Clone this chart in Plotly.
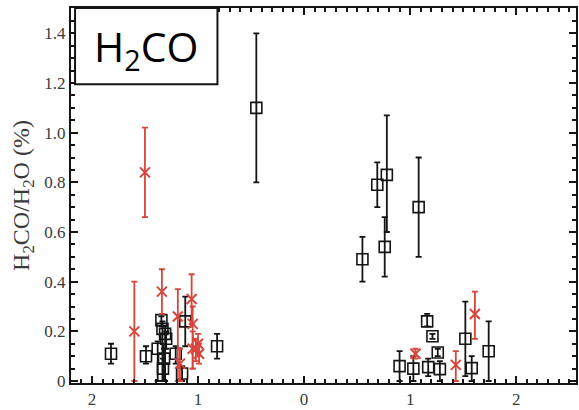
import plotly.graph_objects as go

# Heliocentric distance (AU); negative = pre-perihelion, positive = post-perihelion
black_x = [-1.82, -1.49, -1.345, -1.335, -1.31, -1.30, -1.38, -1.32, -1.33, -1.21, -1.12, -1.15, -0.82, -0.45,
           0.55, 0.69, 0.78, 0.76, 1.08, 0.90, 1.03, 1.16, 1.21, 1.26, 1.17, 1.28, 1.52, 1.58, 1.74]
black_y = [0.11, 0.10, 0.245, 0.21, 0.19, 0.17, 0.13, 0.09, 0.05, 0.11, 0.24, 0.03, 0.14, 1.10,
           0.49, 0.79, 0.83, 0.54, 0.70, 0.06, 0.05, 0.24, 0.18, 0.115, 0.056, 0.048, 0.17, 0.052, 0.12]
black_lo = [0.07, 0.07, 0.22, 0.0, 0.0, 0.13, 0.0, 0.0, 0.0, 0.07, 0.14, 0.0, 0.09, 0.80,
            0.40, 0.70, 0.60, 0.42, 0.50, 0.0, 0.0, 0.22, 0.17, 0.10, 0.02, 0.0, 0.02, 0.0, 0.0]
black_hi = [0.15, 0.14, 0.26, 0.24, 0.22, 0.20, 0.16, 0.13, 0.09, 0.14, 0.34, 0.06, 0.19, 1.40,
            0.58, 0.88, 1.07, 0.66, 0.90, 0.12, 0.10, 0.27, 0.19, 0.13, 0.09, 0.08, 0.32, 0.10, 0.24]

red_x = [-1.60, -1.50, -1.34, -1.19, -1.17, -1.06, -1.05, -1.05, -1.00, -0.99, -1.02, 1.05, 1.43, 1.61]
red_y = [0.20, 0.84, 0.36, 0.26, 0.07, 0.33, 0.23, 0.13, 0.15, 0.11, 0.13, 0.11, 0.065, 0.27]
red_lo = [0.0, 0.66, 0.27, 0.0, 0.0, 0.23, 0.05, 0.05, 0.10, 0.07, 0.08, 0.09, 0.0, 0.17]
red_hi = [0.40, 1.02, 0.45, 0.37, 0.13, 0.43, 0.30, 0.20, 0.19, 0.15, 0.17, 0.13, 0.12, 0.36]

x_tick_vals = [-2, -1, 0, 1, 2]
x_tick_text = ["2", "1", "0", "1", "2"]
y_tick_vals = [0, 0.2, 0.4, 0.6, 0.8, 1.0, 1.2, 1.4]
y_tick_text = ["0", "0.2", "0.4", "0.6", "0.8", "1.0", "1.2", "1.4"]

BLACK = "#151515"
RED = "#d9453b"

fig = go.Figure()

fig.add_trace(go.Scatter(
    x=black_x, y=black_y, mode="markers",
    marker=dict(symbol="square-open", size=11, color=BLACK, line=dict(width=1.6, color=BLACK)),
    error_y=dict(type="data", symmetric=False,
                 array=[h - v for h, v in zip(black_hi, black_y)],
                 arrayminus=[v - l for v, l in zip(black_y, black_lo)],
                 color=BLACK, thickness=1.8, width=3),
    showlegend=False,
))

fig.add_trace(go.Scatter(
    x=red_x, y=red_y, mode="markers",
    marker=dict(symbol="x-thin-open", size=10, color=RED, line=dict(width=2, color=RED)),
    error_y=dict(type="data", symmetric=False,
                 array=[h - v for h, v in zip(red_hi, red_y)],
                 arrayminus=[v - l for v, l in zip(red_y, red_lo)],
                 color=RED, thickness=1.8, width=3),
    showlegend=False,
))

tick_font = dict(family="Liberation Serif, Times New Roman, serif", size=17, color="#3a3a3a")
title_font = dict(family="Liberation Serif, Times New Roman, serif", size=24, color="#3a3a3a")

fig.update_layout(
    width=579, height=410,
    margin=dict(l=71, r=1, t=8, b=23),
    paper_bgcolor="white", plot_bgcolor="white",
    xaxis=dict(
        range=[-2.197, 2.563], tickmode="array", tickvals=x_tick_vals, ticktext=x_tick_text,
        ticks="inside", ticklen=7, tickwidth=2, tickcolor=BLACK,
        minor=dict(dtick=0.1, tick0=0, ticks="inside", ticklen=4, tickwidth=1.5, tickcolor=BLACK),
        showline=True, linewidth=2, linecolor=BLACK, mirror="allticks",
        showgrid=False, zeroline=False, tickfont=tick_font,
    ),
    yaxis=dict(
        range=[-0.008, 1.502], tickmode="array", tickvals=y_tick_vals, ticktext=y_tick_text,
        ticks="inside", ticklen=7, tickwidth=2, tickcolor=BLACK,
        minor=dict(dtick=0.05, tick0=0, ticks="inside", ticklen=4, tickwidth=1.5, tickcolor=BLACK),
        showline=True, linewidth=2, linecolor=BLACK, mirror="allticks",
        showgrid=False, zeroline=False, tickfont=tick_font,
        title=dict(text="H<sub>2</sub>CO/H<sub>2</sub>O (%)", font=title_font, standoff=8),
    ),
    shapes=[dict(type="rect", xref="paper", yref="paper",
                 x0=0.008, x1=0.290, y0=0.797, y1=1.0,
                 fillcolor="white", line=dict(color=BLACK, width=2), layer="above")],
    annotations=[dict(text="H<sub>2</sub>CO", xref="paper", yref="paper",
                      x=0.149, y=0.893, xanchor="center", yanchor="middle", showarrow=False,
                      font=dict(family="Open Sans, Lato, sans-serif", size=41, color="black"))],
)

fig.write_html("out.html")
